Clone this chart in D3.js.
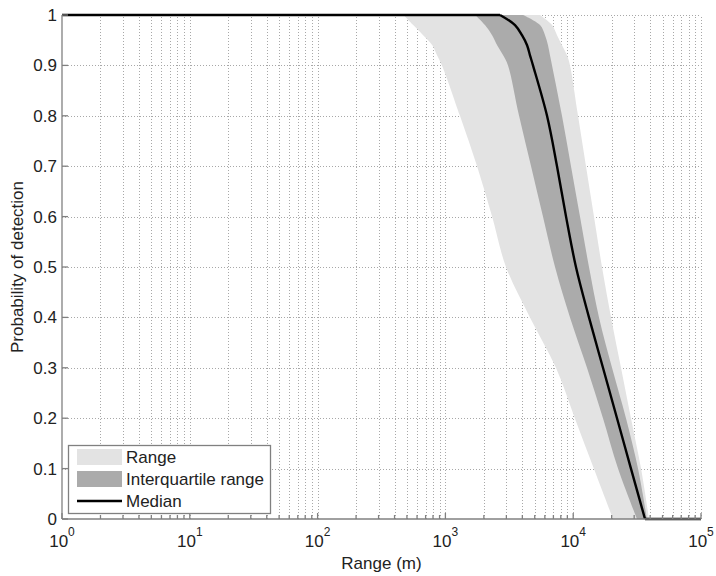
<!DOCTYPE html>
<html><head><meta charset="utf-8">
<script src="https://cdn.jsdelivr.net/npm/d3@7"></script>
<style>body{margin:0;background:#fff}svg{display:block}text{font-family:"Liberation Sans",Arial,sans-serif;fill:#222}</style>
</head><body><svg id="c" width="716" height="576"></svg>
<script>
// Probability levels (y) at which the ranges were read
const pLevels   = [1, 0.98, 0.96, 0.94, 0.92, 0.9, 0.8, 0.7, 0.6, 0.5, 0.4, 0.3, 0.2, 0.1, 0];
const rangeMin  = [470, 560, 670, 790, 860, 940, 1300, 1770, 2320, 2980, 4590, 7330, 10300, 14500, 20500];
const rangeMax  = [5500, 6830, 7470, 8170, 8940, 9440, 10910, 12590, 14540, 16800, 19770, 23660, 28310, 33950, 39180];
const iqrLow    = [1710, 2040, 2320, 2540, 2830, 3090, 3770, 4680, 5800, 7210, 9440, 12820, 17100, 22420, 31560];
const iqrHigh   = [4050, 5500, 6020, 6350, 6580, 6830, 8170, 9610, 11300, 13290, 15920, 20130, 25880, 32140, 37750];
const median    = [2675, 3505, 3975, 4355, 4590, 4845, 6240, 7470, 8790, 10510, 13290, 17100, 22020, 28310, 36470];
const medianStart = {r: 1, p: 1};
const medianEnd   = {r: 1e5, p: 0};
const yTicks = [0, 0.1, 0.2, 0.3, 0.4, 0.5, 0.6, 0.7, 0.8, 0.9, 1];
const xDecades = [0, 1, 2, 3, 4, 5];
const legendItems = ["Range", "Interquartile range", "Median"];

const svg = d3.select("#c");
const x = d3.scaleLog().domain([1, 1e5]).range([62, 701]);
const y = d3.scaleLinear().domain([0, 1]).range([519, 15]);

// minor/major x values
const xAll = [];
xDecades.forEach(d => { for (let k = 1; k <= 9; k++) { const v = k * Math.pow(10, d); if (v <= 1e5) xAll.push(v); } });

const grid = svg.append("g").attr("stroke", "#a8a8a8").attr("stroke-width", 1).attr("stroke-dasharray", "1,2");
xAll.filter(v => v > 1).forEach(v => {
  grid.append("line").attr("x1", Math.round(x(v)) + 0.5).attr("x2", Math.round(x(v)) + 0.5).attr("y1", y(0)).attr("y2", y(1));
});
yTicks.filter(v => v > 0).forEach(v => {
  grid.append("line").attr("x1", x(1)).attr("x2", x(1e5)).attr("y1", Math.round(y(v)) + 0.5).attr("y2", Math.round(y(v)) + 0.5);
});

const rows = pLevels.map((p, i) => ({p, rmin: rangeMin[i], rmax: rangeMax[i], ql: iqrLow[i], qh: iqrHigh[i], m: median[i]}));
const curve = d3.curveCatmullRom.alpha(0.5);
const areaRange = d3.area().curve(curve).y(d => y(d.p)).x0(d => x(d.rmin)).x1(d => x(d.rmax));
const areaIqr = d3.area().curve(curve).y(d => y(d.p)).x0(d => x(d.ql)).x1(d => x(d.qh));
svg.append("path").datum(rows).attr("d", areaRange).attr("fill", "#e3e3e3");
svg.append("path").datum(rows).attr("d", areaIqr).attr("fill", "#ababab");

const medPts = [medianStart].concat(rows.map(d => ({r: d.m, p: d.p})), [medianEnd]);
const medLine = d3.line().curve(curve).x(d => x(d.r)).y(d => y(d.p));
const straight = d3.line().x(d => x(d.r)).y(d => y(d.p));
svg.append("path").datum(medPts.slice(1, medPts.length - 1)).attr("d", medLine).attr("fill", "none").attr("stroke", "#000").attr("stroke-width", 2.4);
svg.append("path").datum([medPts[0], medPts[1]]).attr("d", straight).attr("fill", "none").attr("stroke", "#000").attr("stroke-width", 2.4);
svg.append("path").datum([medPts[medPts.length - 2], medPts[medPts.length - 1]]).attr("d", straight).attr("fill", "none").attr("stroke", "#000").attr("stroke-width", 2.4);

// axes
const ax = svg.append("g").attr("stroke", "#808080").attr("stroke-width", 1.3);
ax.append("line").attr("x1", x(1)).attr("x2", x(1e5)).attr("y1", y(0)).attr("y2", y(0));
ax.append("line").attr("x1", x(1)).attr("x2", x(1)).attr("y1", y(0)).attr("y2", y(1));
xAll.forEach(v => {
  const major = Math.abs(Math.log10(v) - Math.round(Math.log10(v))) < 1e-9;
  ax.append("line").attr("x1", x(v)).attr("x2", x(v)).attr("y1", y(0)).attr("y2", y(0) - (major ? 6 : 4));
});
yTicks.forEach(v => {
  ax.append("line").attr("x1", x(1)).attr("x2", x(1) + 6).attr("y1", y(v)).attr("y2", y(v));
});

// tick labels
yTicks.forEach(v => {
  svg.append("text").attr("x", x(1) - 5).attr("y", y(v) + 6).attr("text-anchor", "end").attr("font-size", 17).text(d3.format("~g")(v));
});
xDecades.forEach(d => {
  const t = svg.append("text").attr("x", x(Math.pow(10, d))).attr("y", 547).attr("text-anchor", "middle").attr("font-size", 17);
  t.append("tspan").text("10");
  t.append("tspan").attr("font-size", 12).attr("dy", -11).text(d);
});
svg.append("text").attr("x", (x(1) + x(1e5)) / 2).attr("y", 569).attr("text-anchor", "middle").attr("font-size", 17).text("Range (m)");
svg.append("text").attr("transform", `translate(23,${(y(0) + y(1)) / 2}) rotate(-90)`).attr("text-anchor", "middle").attr("font-size", 17).text("Probability of detection");

// legend
const lg = svg.append("g");
lg.append("rect").attr("x", 68.5).attr("y", 445.5).attr("width", 202).attr("height", 68).attr("fill", "#fff").attr("stroke", "#808080").attr("stroke-width", 1.3);
const rowY = [457, 479, 501];
lg.append("rect").attr("x", 77).attr("y", rowY[0] - 8).attr("width", 45).attr("height", 16).attr("fill", "#e3e3e3");
lg.append("rect").attr("x", 77).attr("y", rowY[1] - 8).attr("width", 45).attr("height", 16).attr("fill", "#ababab");
lg.append("line").attr("x1", 77).attr("x2", 122).attr("y1", rowY[2]).attr("y2", rowY[2]).attr("stroke", "#000").attr("stroke-width", 2.4);
legendItems.forEach((s, i) => {
  lg.append("text").attr("x", 126).attr("y", rowY[i] + 6).attr("font-size", 17).text(s);
});
</script></body></html>
